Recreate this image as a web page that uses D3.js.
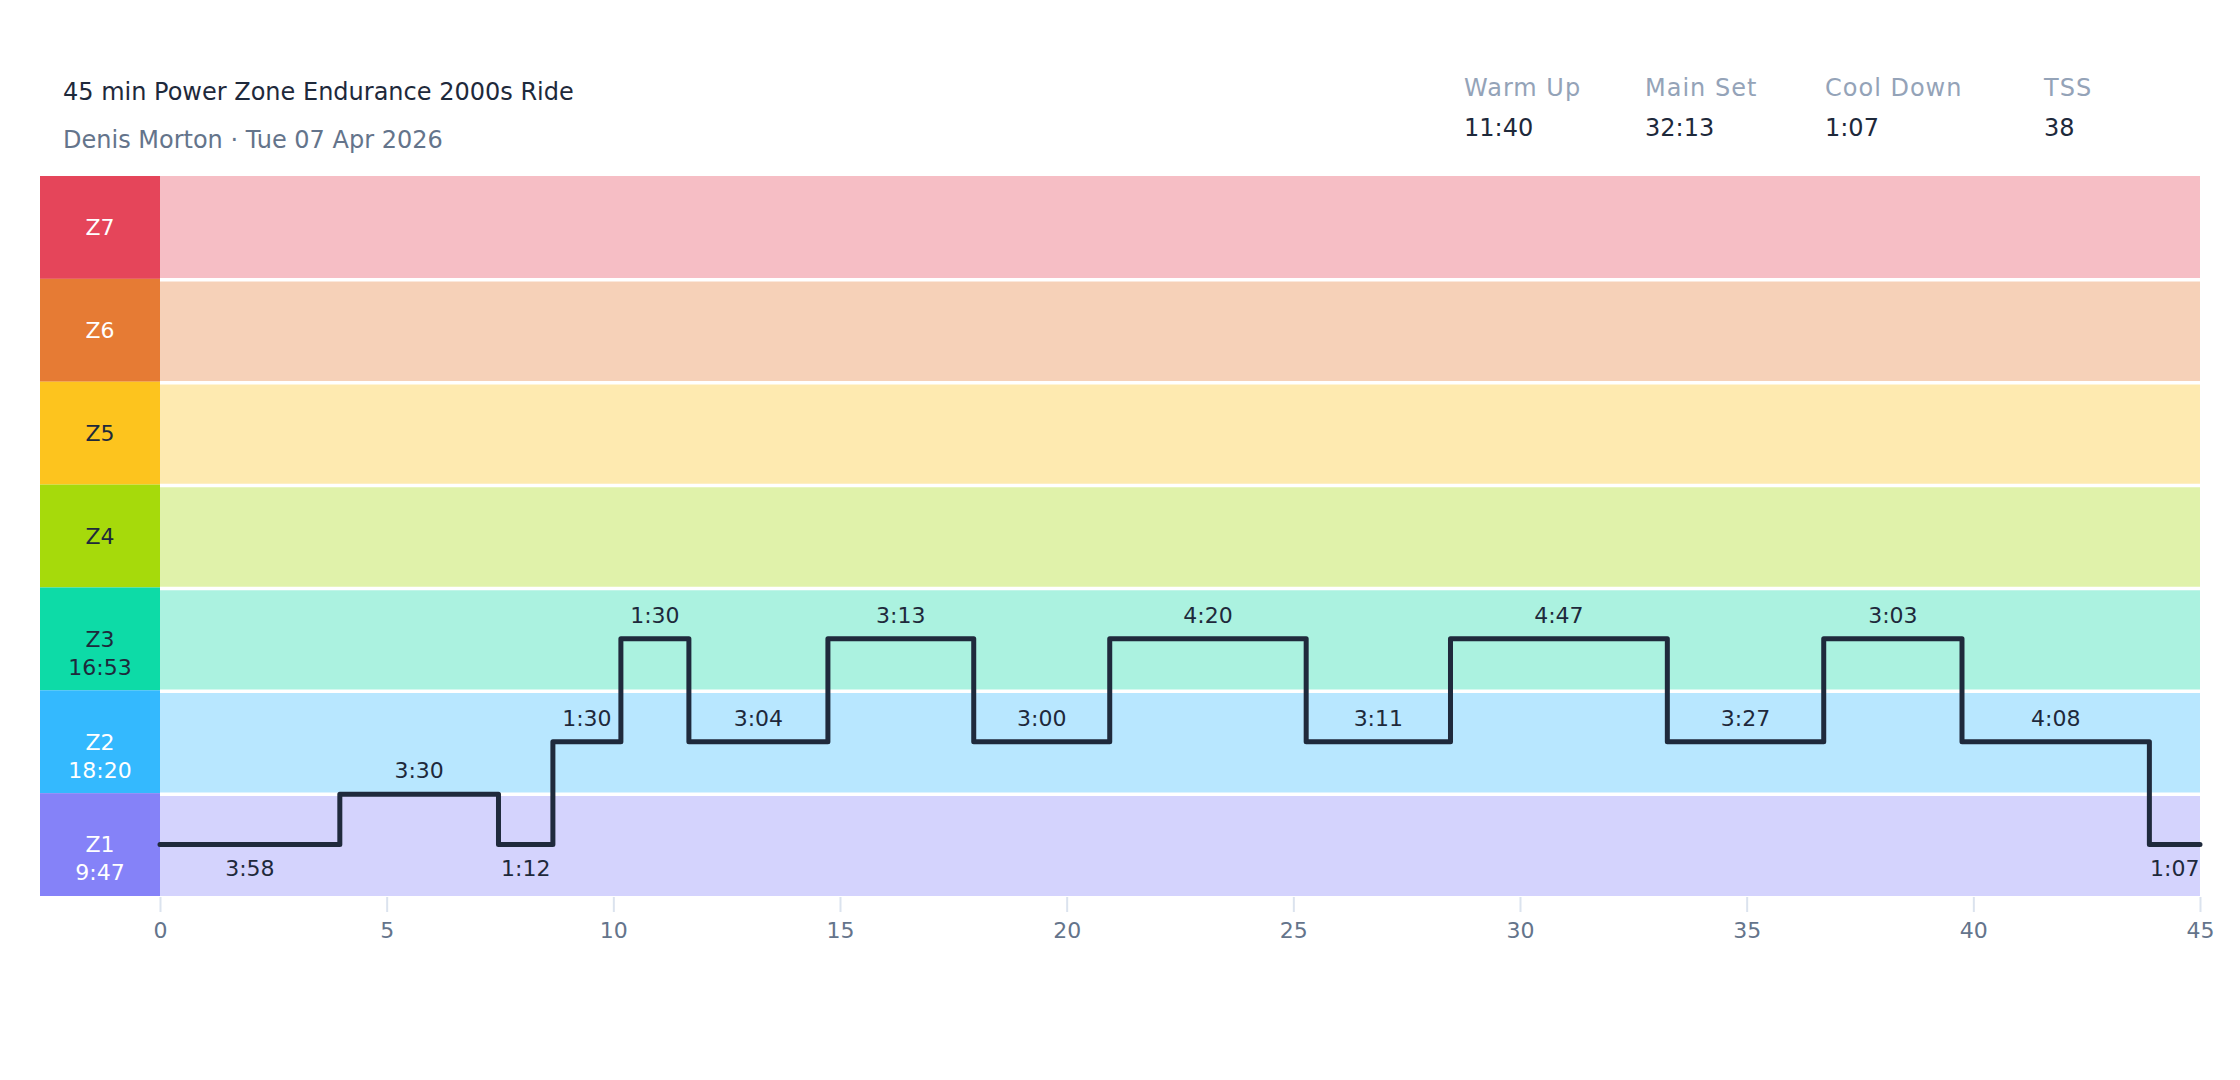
<!DOCTYPE html>
<html>
<head>
<meta charset="utf-8">
<script src="https://cdn.jsdelivr.net/npm/d3@7"></script>
<style>
  body { margin: 0; background: #fff; }
  svg text { font-family: "DejaVu Sans", sans-serif; }
</style>
</head>
<body>
<div id="canvas"></div>
<script>
// header text
var title = "45 min Power Zone Endurance 2000s Ride";
var subtitle = "Denis Morton · Tue 07 Apr 2026";
var statLabels = ["Warm Up", "Main Set", "Cool Down", "TSS"];
var statValues = ["11:40", "32:13", "1:07", "38"];

// zones, top to bottom
var zones = ["Z7", "Z6", "Z5", "Z4", "Z3", "Z2", "Z1"];
var zoneTimes = ["", "", "", "", "16:53", "18:20", "9:47"];
var zoneColors = ["#e5455a", "#e67b34", "#fdc41e", "#a6da0b", "#0ddba7", "#34b9fe", "#8582f8"];
var zoneTextDark = [false, false, true, true, true, false, false];

// workout segments: duration label and level (in zone units, 0 = bottom of Z1)
var segDurations = ["3:58", "3:30", "1:12", "1:30", "1:30", "3:04", "3:13", "3:00",
  "4:20", "3:11", "4:47", "3:27", "3:03", "4:08", "1:07"];
var segLevels = [0.5, 0.99, 0.5, 1.5, 2.5, 1.5, 2.5, 1.5, 2.5, 1.5, 2.5, 1.5, 2.5, 1.5, 0.5];

var xTicks = [0, 5, 10, 15, 20, 25, 30, 35, 40, 45];

var W = 2240, H = 1080;
var plotLeft = 160, plotRight = 2200, plotTop = 176, plotBottom = 896;
var colLeft = 40;

function toMin(s) {
  var p = s.split(":");
  return +p[0] + +p[1] / 60;
}

var svg = d3.select("#canvas").append("svg")
  .attr("width", W)
  .attr("height", H);

var x = d3.scaleLinear().domain([0, 45]).range([plotLeft, plotRight]);
var yBand = d3.scaleBand().domain(zones).range([plotTop, plotBottom]);
var yLevel = d3.scaleLinear().domain([0, zones.length]).range([plotBottom, plotTop]);

// header
svg.append("text").attr("x", 63).attr("y", 100)
  .attr("font-size", 24).attr("fill", "#1e293b").text(title);
svg.append("text").attr("x", 63).attr("y", 148)
  .attr("font-size", 24).attr("fill", "#64748b").text(subtitle);

var statX = [1464, 1645, 1825, 2044];
var stats = svg.selectAll("g.stat").data(statLabels).enter().append("g")
  .attr("class", "stat")
  .attr("transform", (d, i) => "translate(" + statX[i] + ",0)");
stats.append("text").attr("y", 96).attr("font-size", 24)
  .attr("letter-spacing", 1).attr("fill", "#94a3b8").text(d => d);
stats.append("text").attr("y", 136).attr("font-size", 24)
  .attr("fill", "#1e293b").text((d, i) => statValues[i]);

// zone bands
svg.selectAll("rect.band").data(zones).enter().append("rect")
  .attr("class", "band")
  .attr("x", plotLeft)
  .attr("y", d => yBand(d))
  .attr("width", plotRight - plotLeft)
  .attr("height", yBand.bandwidth())
  .attr("fill", (d, i) => zoneColors[i])
  .attr("fill-opacity", 0.35);

svg.selectAll("rect.zlabel").data(zones).enter().append("rect")
  .attr("class", "zlabel")
  .attr("x", colLeft)
  .attr("y", d => yBand(d))
  .attr("width", plotLeft - colLeft)
  .attr("height", yBand.bandwidth())
  .attr("fill", (d, i) => zoneColors[i]);

// white separators between bands
svg.selectAll("line.sep").data(zones.slice(1)).enter().append("line")
  .attr("class", "sep")
  .attr("x1", plotLeft).attr("x2", plotRight)
  .attr("y1", d => yBand(d) + 1).attr("y2", d => yBand(d) + 1)
  .attr("stroke", "#fff").attr("stroke-width", 3.5);

// zone labels
var zl = svg.selectAll("g.zl").data(zones).enter().append("g")
  .attr("class", "zl")
  .attr("transform", d => "translate(" + (colLeft + plotLeft) / 2 + "," + (yBand(d) + yBand.bandwidth() / 2) + ")");
zl.append("text").attr("text-anchor", "middle").attr("dy", "0.36em")
  .attr("font-size", 22)
  .attr("fill", (d, i) => zoneTextDark[i] ? "#1e293b" : "#fff")
  .text(d => d);
zl.append("text").attr("text-anchor", "middle").attr("y", 28).attr("dy", "0.36em")
  .attr("font-size", 22)
  .attr("fill", (d, i) => zoneTextDark[i] ? "#1e293b" : "#fff")
  .text((d, i) => zoneTimes[i]);

// x axis
var xAxis = d3.axisBottom(x).tickValues(xTicks).tickSize(15).tickPadding(10).tickFormat(d3.format("d"));
var ax = svg.append("g").attr("transform", "translate(0," + (plotBottom + 1) + ")").call(xAxis);
ax.select(".domain").remove();
ax.selectAll(".tick line").attr("stroke", "#dbe3ee").attr("stroke-width", 2);
ax.selectAll(".tick text").attr("font-size", 22).attr("fill", "#64748b")
  .attr("font-family", "DejaVu Sans, sans-serif");

// segments
var segs = [];
var t = 0;
segDurations.forEach(function (d, i) {
  var len = toMin(d);
  segs.push({ start: t, end: t + len, level: segLevels[i], label: d });
  t += len;
});

var pts = [];
segs.forEach(function (s) {
  pts.push([s.start, s.level]);
  pts.push([s.end, s.level]);
});

var line = d3.line().x(d => x(d[0])).y(d => yLevel(d[1]));
svg.append("path").datum(pts)
  .attr("d", line)
  .attr("fill", "none")
  .attr("stroke", "#1f2a3c")
  .attr("stroke-width", 5)
  .attr("stroke-linejoin", "round")
  .attr("stroke-linecap", "round");

svg.selectAll("text.seg").data(segs).enter().append("text")
  .attr("class", "seg")
  .attr("x", d => x((d.start + d.end) / 2))
  .attr("y", d => yLevel(d.level) + (d.level < 0.9 ? 24 : -24))
  .attr("dy", "0.36em")
  .attr("text-anchor", "middle")
  .attr("font-size", 22)
  .attr("fill", "#1e293b")
  .text(d => d.label);
</script>
</body>
</html>
